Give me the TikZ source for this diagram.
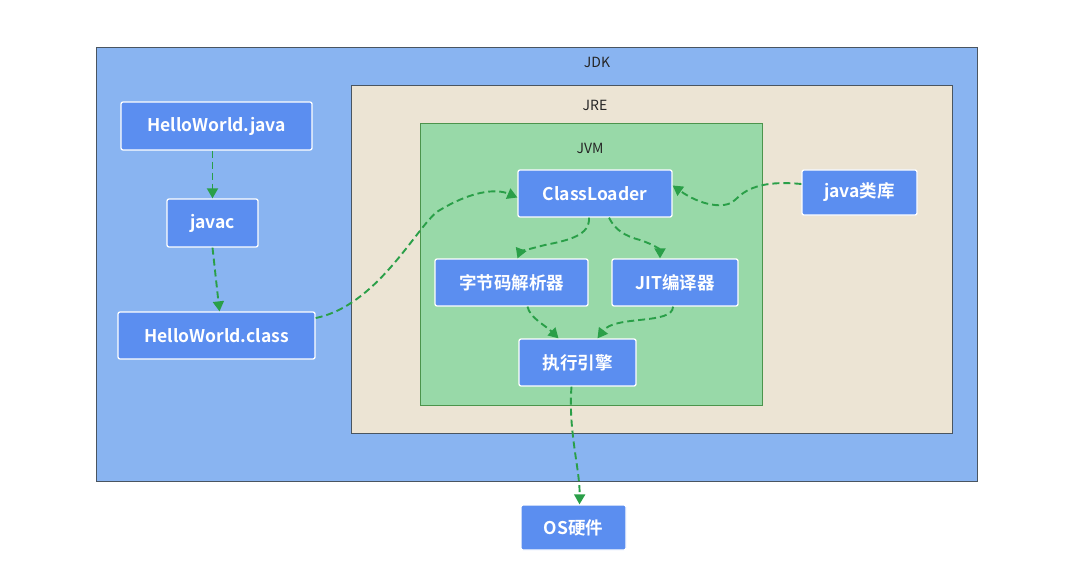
\documentclass[tikz,border=0pt]{standalone}
\usepackage{fontspec}
\setmainfont{Noto Sans CJK SC}
\newfontfamily\cjkb{Noto Sans CJK SC Bold}
\usetikzlibrary{arrows.meta}
\definecolor{jdkc}{HTML}{89B4F1}
\definecolor{jrec}{HTML}{ECE4D4}
\definecolor{jvmc}{HTML}{98D9A8}
\definecolor{nodec}{HTML}{5B8EF0}
\definecolor{arrc}{HTML}{2A9F48}
\definecolor{bordc}{HTML}{4A5560}
\tikzset{
  x=1pt,y=-1pt,
  region/.style={draw=bordc,line width=0.8pt},
  lbl/.style={font=\fontsize{14}{16}\selectfont,text=black!85},
  box/.style={draw=white,line width=1.3pt,fill=nodec,rounded corners=2pt,text=white,font=\cjkb\fontsize{17.5}{20}\selectfont,inner sep=0pt},
  flow/.style={draw=arrc,line width=1.9pt,dash pattern=on 7pt off 4pt,-{Triangle[length=10pt,width=11pt]}},
}
\begin{document}
\begin{tikzpicture}
\useasboundingbox[fill=white] (0,0) rectangle (1075,564);
% regions
\draw[region,fill=jdkc] (96,47) rectangle (977,481);
\draw[region,fill=jrec] (351,85) rectangle (952,433);
\draw[region,draw=green!40!black!70,fill=jvmc] (420,123) rectangle (762,405);
\node[lbl] (jdk) at (597,62) {JDK};
\node[lbl] (jre) at (595,105) {JRE};
\node[lbl] (jvm) at (590,148) {JVM};
% nodes
\node[box,minimum width=191pt,minimum height=48pt] (hwj) at (216.5,126) {HelloWorld.java};
\node[box,minimum width=91pt,minimum height=48pt] (javac) at (212.5,223) {javac};
\node[box,minimum width=197pt,minimum height=47pt] (hwc) at (216.5,335.5) {HelloWorld.class};
\node[box,minimum width=154pt,minimum height=47pt] (cl) at (595,193.5) {ClassLoader};
\node[box,minimum width=115pt,minimum height=45pt] (lib) at (859.5,192.5) {java类库};
\node[box,minimum width=153pt,minimum height=47pt] (bc) at (511.5,282.5) {字节码解析器};
\node[box,minimum width=126pt,minimum height=47pt] (jit) at (675,282.5) {JIT编译器};
\node[box,minimum width=117pt,minimum height=47pt] (exe) at (577.5,362.5) {执行引擎};
\node[box,minimum width=105pt,minimum height=45pt] (os) at (573.5,527.5) {OS硬件};
% connectors
\draw[flow] (hwj.south) ++(-4,0) coordinate (a1) (a1) -- (javac.north);
\draw[flow] (javac.south) -- ([xshift=3pt]hwc.north);
\draw[flow] (hwc.east |- 0,318) .. controls (380,305) and (420,220) .. (440,210) .. controls (470,192) and (495,188) .. ([yshift=-4pt]cl.west);
\draw[flow] (lib.west |- 0,184) .. controls (760,180) and (745,190) .. (735,200) .. controls (725,210) and (700,205) .. ([yshift=8pt]cl.east);
\draw[flow] ([xshift=-6pt]cl.south) .. controls (590,235) and (570,240) .. (545,245) .. controls (525,250) and (520,252) .. ([xshift=6pt]bc.north);
\draw[flow] ([xshift=14pt]cl.south) .. controls (615,230) and (625,236) .. (640,240) .. controls (655,245) and (660,250) .. ([xshift=-15pt]jit.north);
\draw[flow] ([xshift=16pt]bc.south) .. controls (530,318) and (545,325) .. ([xshift=-19pt]exe.north);
\draw[flow] ([xshift=-2pt]jit.south) .. controls (673,325) and (615,315) .. ([xshift=20pt]exe.north);
\draw[flow] ([xshift=-6pt]exe.south) .. controls (568,430) and (580,470) .. ([xshift=6pt]os.north);
\end{tikzpicture}
\end{document}
